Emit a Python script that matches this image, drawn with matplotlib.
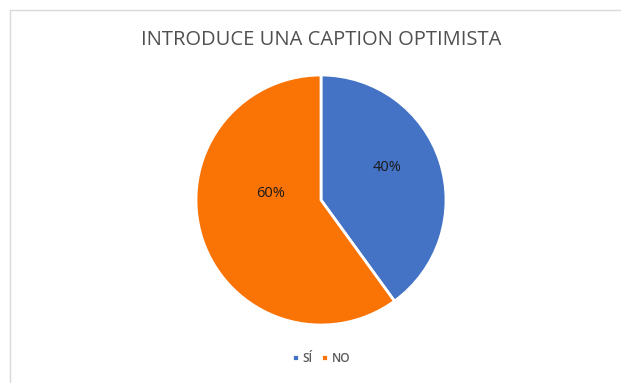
import matplotlib
matplotlib.use("Agg")
import matplotlib.pyplot as plt
from matplotlib.patches import Rectangle

categories = ["SÍ", "NO"]
values = [40, 60]
colors = ["#4472C4", "#FA7305"]
title = "INTRODUCE UNA CAPTION OPTIMISTA"

W, H = 621, 383
fig = plt.figure(figsize=(W / 100, H / 100), dpi=100)
fig.patch.set_facecolor("white")

# chart frame
fig.add_artist(Rectangle((10 / W, -0.05), 1.0, 1 - 10 / H + 0.05,
                         transform=fig.transFigure, fill=False,
                         edgecolor="#D9D9D9", linewidth=1.0))

cx, cy, r = 321, 200, 125
ax = fig.add_axes([(cx - r) / W, (H - cy - r) / H, 2 * r / W, 2 * r / H])
wedges, texts, autotexts = ax.pie(
    values, colors=colors, startangle=90, counterclock=False,
    autopct="%1.0f%%", pctdistance=0.55,
    wedgeprops=dict(edgecolor="white", linewidth=2),
    textprops=dict(fontsize=10.5, color="#1a1a1a", family="Open Sans"))
ax.set_xlim(-1, 1)
ax.set_ylim(-1, 1)
ax.set_aspect("auto")
# Excel-like label placement
autotexts[0].set_position((0.53, 0.26))
autotexts[1].set_position((-0.40, 0.05))

fig.text(321 / W, 1 - 40 / H, title, ha="center", va="center",
         fontsize=14.5, color="#505050", family="Open Sans", weight="medium")

fig.legend(wedges, categories, loc="center", bbox_to_anchor=(321 / W, 1 - 359 / H),
           ncol=2, frameon=False, handlelength=0.5, handleheight=0.7,
           handletextpad=0.35, columnspacing=0.8, labelcolor="#595959",
           prop=dict(family="Open Sans", size=8.5, weight="semibold"))
for h in fig.legends[0].legend_handles:
    h.set_height(5)
    h.set_width(5)
    h.set_y(1)

fig.savefig("out.png", dpi=100)
